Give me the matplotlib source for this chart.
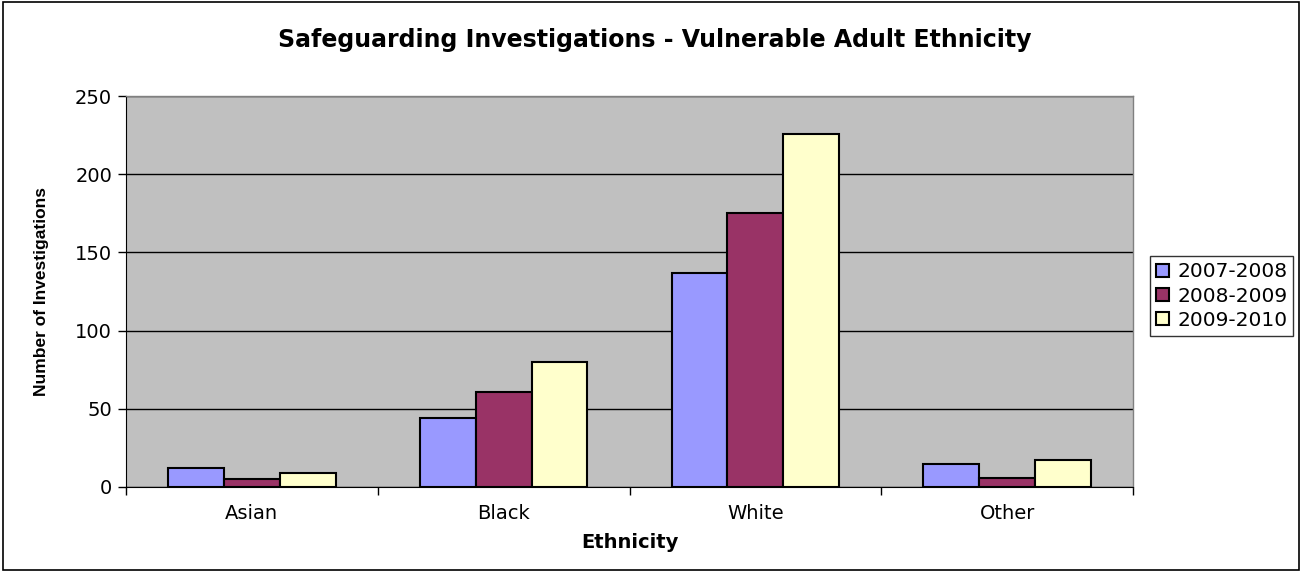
import matplotlib
matplotlib.use("Agg")
import matplotlib.pyplot as plt
import numpy as np
from matplotlib.patches import Rectangle

categories = ["Asian", "Black", "White", "Other"]
series_names = ["2007-2008", "2008-2009", "2009-2010"]
v_2007 = [12, 44, 137, 15]
v_2008 = [5, 61, 175, 6]
v_2009 = [9, 80, 226, 17]
colors = ["#9999FF", "#993366", "#FFFFCC"]
yticks = [0, 50, 100, 150, 200, 250]

plt.rcParams['font.family'] = ['DejaVu Sans']

fig = plt.figure(figsize=(13.02, 5.72), dpi=100)
fig.patches.append(Rectangle((0.002, 0.003), 0.996, 0.994, transform=fig.transFigure,
                             fill=False, edgecolor='black', linewidth=1.2))
ax = fig.add_axes([126/1302, 85/572, 1007/1302, 391/572])
ax.set_facecolor('#C0C0C0')

x = np.arange(len(categories))
w = 0.222
for i, (vals, c, n) in enumerate(zip([v_2007, v_2008, v_2009], colors, series_names)):
    ax.bar(x + (i - 1) * w, vals, width=w, color=c, edgecolor='black', linewidth=1.5,
           label=n, zorder=3)

ax.set_xlim(-0.5, 3.5)
ax.set_ylim(0, 250)
ax.set_yticks(yticks)
ax.yaxis.grid(True, color='black', linewidth=1.0, zorder=1)
ax.set_axisbelow(True)
ax.set_xticks(x)
ax.set_xticklabels(categories, fontsize=14)
ax.tick_params(axis='x', length=0, pad=12)
ax.set_xticks([-0.5, 0.5, 1.5, 2.5, 3.5], minor=True)
ax.tick_params(axis='x', which='minor', length=6, width=1, direction='out')
ax.tick_params(axis='y', labelsize=14, length=6, width=1, direction='out', pad=4)

for s in ['top', 'right']:
    ax.spines[s].set_color('#808080')
    ax.spines[s].set_linewidth(1.0)
ax.spines['left'].set_color('black')
ax.spines['bottom'].set_color('black')

ax.set_xlabel("Ethnicity", fontsize=14, fontweight='bold')
ax.xaxis.set_label_coords((630 - 126) / 1007, (487 - 543) / 391)
ax.set_ylabel("Number of Investigations", fontsize=12.5, fontweight='bold',
              family=['Liberation Sans', 'DejaVu Sans'])
ax.yaxis.set_label_coords((42 - 126) / 1007, 0.50)
ax.xaxis.label.set_va('center')
ax.yaxis.label.set_va('center')
fig.text(655 / 1302, 1 - 40/572, "Safeguarding Investigations - Vulnerable Adult Ethnicity",
         ha='center', va='center', fontsize=17, fontweight='bold')

leg = fig.legend(loc='center left', bbox_to_anchor=(1150/1302, 1 - 296/572), fontsize=14.5,
                 frameon=True, fancybox=False, edgecolor='black', handlelength=0.65,
                 handleheight=0.65, handletextpad=0.4, borderpad=0.3, labelspacing=0.25,
                 borderaxespad=0)
leg.get_frame().set_linewidth(1.0)

fig.savefig("out.png", dpi=100)
